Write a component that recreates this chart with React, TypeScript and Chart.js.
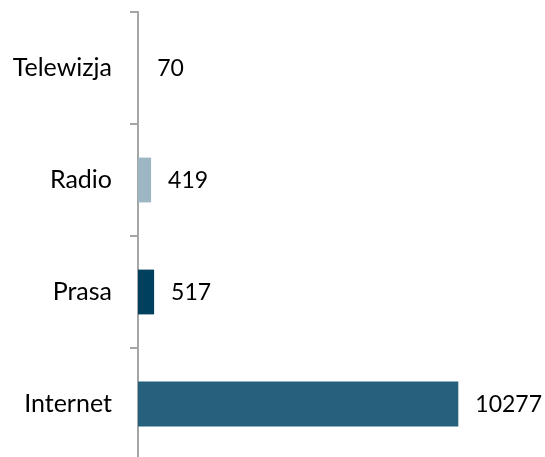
import React, { useEffect, useRef } from "react";
import { Chart, registerables } from "chart.js";

Chart.register(...registerables);

const categories = ["Telewizja", "Radio", "Prasa", "Internet"];
const values = [70, 419, 517, 10277];
const barColors = ["rgba(255,255,255,0)", "#9cb6c4", "#00405f", "#27607c"];

const FONT = "Lato, 'Open Sans', sans-serif";

const valueLabels = {
  id: "valueLabels",
  afterDatasetsDraw(chart: any) {
    const ctx = chart.ctx;
    const meta = chart.getDatasetMeta(0);
    ctx.save();
    ctx.font = `23px ${FONT}`;
    ctx.fillStyle = "#000000";
    ctx.textAlign = "left";
    ctx.textBaseline = "middle";
    meta.data.forEach((bar: any, i: number) => {
      ctx.fillText(String(values[i]), bar.x + 17, bar.y + 1);
    });
    ctx.restore();
  },
};

export default function App() {
  const ref = useRef<HTMLCanvasElement>(null);
  useEffect(() => {
    if (!ref.current) return;
    const chart = new Chart(ref.current, {
      type: "bar",
      data: {
        labels: categories,
        datasets: [
          {
            data: values,
            backgroundColor: barColors,
            barPercentage: 0.4,
            categoryPercentage: 1,
          },
        ],
      },
      options: {
        indexAxis: "y",
        animation: false,
        responsive: false,
        maintainAspectRatio: false,
        layout: { padding: { top: 12, right: 33, bottom: 0, left: 0 } },
        plugins: { legend: { display: false }, tooltip: { enabled: false } },
        scales: {
          x: { display: false, min: 0, max: 12000 },
          y: {
            afterFit: (scale: any) => {
              scale.width = 138;
              scale.paddingTop = 0;
              scale.paddingBottom = 0;
            },
            grid: {
              drawOnChartArea: false,
              drawTicks: true,
              tickLength: 8,
              color: "#a6a6a6",
              lineWidth: 2,
            },
            border: { display: true, color: "#a6a6a6", width: 2 },
            ticks: {
              padding: 18,
              color: "#000000",
              font: { family: FONT, size: 25 },
            },
          },
        },
      },
      plugins: [valueLabels],
    });
    return () => chart.destroy();
  }, []);
  return (
    <div
      style={{
        position: "absolute",
        left: 0,
        top: 0,
        width: 545,
        height: 457,
        overflow: "hidden",
        background: "#fff",
      }}
    >
      <canvas ref={ref} width={545} height={460} />
    </div>
  );
}
